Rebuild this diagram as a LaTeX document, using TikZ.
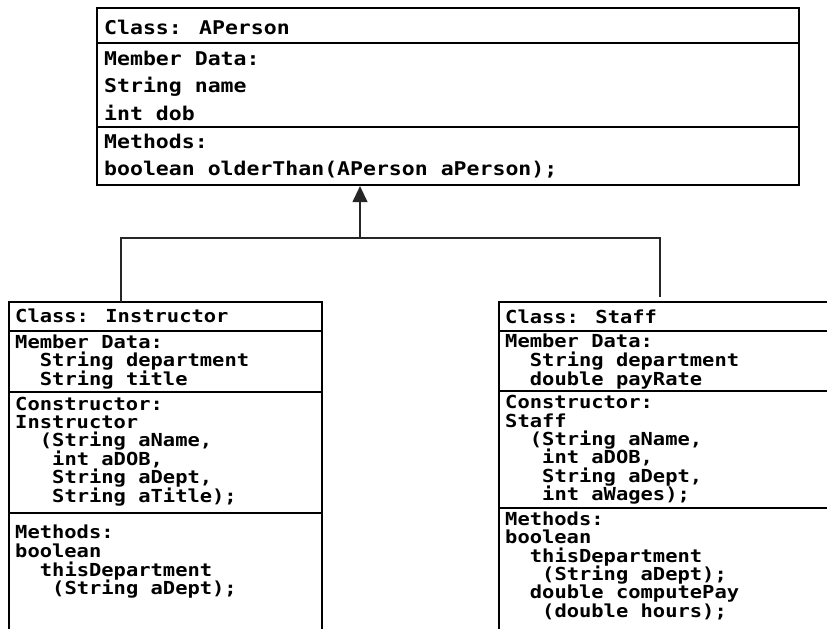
\documentclass[tikz,border=0pt]{standalone}
\usepackage{fontspec}
\newfontfamily\umlfontA[FakeStretch=1.136]{DejaVu Sans Mono}
\newfontfamily\umlfontB[FakeStretch=1.14]{DejaVu Sans Mono}
\usetikzlibrary{arrows.meta,calc}
\newcommand\umltop[4]{\node[txttop] (#1) at (#2,#3) {#4};}
\newcommand\umlline[4]{\node[txt] (#1) at (#2,#3) {#4};}
\begin{document}
\begin{tikzpicture}[x=1bp,y=-1bp,
  bx/.style={draw=black,line width=2.2bp},
  boxnode/.style={bx,inner sep=0pt,outer sep=0pt,anchor=north west},
  txttop/.style={font={\umlfontA\bfseries\fontsize{19}{19}\selectfont},inner sep=0pt,anchor=base west},
  txt/.style={font={\umlfontB\bfseries\fontsize{18}{18}\selectfont},inner sep=0pt,anchor=base west},
  conn/.style={draw=black!85,line width=1.2bp}]
\useasboundingbox (0,0) rectangle (827,629);

% ---- APerson ----
\node[boxnode,minimum width=702bp,minimum height=177bp] (ap) at (97,8) {};
\draw[bx] (97,43) -- (799,43);
\draw[bx] (97,127) -- (799,127);
\umltop{a1}{104}{35}{Class: APerson}
\umltop{a2}{104}{66}{Member Data:}
\umltop{a3}{104}{93}{String name}
\umltop{a4}{104}{121}{int dob}
\umltop{a5}{104}{149}{Methods:}
\umltop{a6}{104}{176}{boolean olderThan(APerson aPerson);}

% ---- Instructor ----
\node[boxnode,minimum width=313bp,minimum height=360bp] (inst) at (9,302) {};
\draw[bx] (9,331) -- (322,331);
\draw[bx] (9,392) -- (322,392);
\draw[bx] (9,513) -- (322,513);
\umlline{i1}{15}{322}{Class: Instructor}
\umlline{i2}{15}{348}{Member Data:}
\umlline{i3}{39.7}{366.5}{String department}
\umlline{i4}{39.7}{385}{String title}
\umlline{i5}{15}{410}{Constructor:}
\umlline{i6}{15}{428}{Instructor}
\umlline{i7}{39.7}{446}{(String aName,}
\umlline{i8}{52}{465}{int aDOB,}
\umlline{i9}{52}{483}{String aDept,}
\umlline{i10}{52}{502}{String aTitle);}
\umlline{i11}{15}{538}{Methods:}
\umlline{i12}{15}{557}{boolean}
\umlline{i13}{39.7}{576}{thisDepartment}
\umlline{i14}{52}{594}{(String aDept);}

% ---- Staff ----
\node[boxnode,minimum width=360bp,minimum height=360bp] (staff) at (499,302) {};
\draw[bx] (499,331) -- (859,331);
\draw[bx] (499,391) -- (859,391);
\draw[bx] (499,508) -- (859,508);
\umlline{s1}{505}{323}{Class: Staff}
\umlline{s2}{505}{347}{Member Data:}
\umlline{s3}{529.7}{366}{String department}
\umlline{s4}{529.7}{385}{double payRate}
\umlline{s5}{505}{408}{Constructor:}
\umlline{s6}{505}{427}{Staff}
\umlline{s7}{529.7}{445}{(String aName,}
\umlline{s8}{542}{463}{int aDOB,}
\umlline{s9}{542}{482}{String aDept,}
\umlline{s10}{542}{500}{int aWages);}
\umlline{s11}{505}{525}{Methods:}
\umlline{s12}{505}{543}{boolean}
\umlline{s13}{529.7}{562}{thisDepartment}
\umlline{s14}{542}{580}{(String aDept);}
\umlline{s15}{529.7}{598}{double computePay}
\begin{scope}
\clip (499,300) rectangle (827,619);
\umlline{s16}{542}{617}{(double hours);}
\end{scope}

% ---- inheritance connector ----
\coordinate (jl) at (121,238);
\coordinate (jm) at (360,238);
\coordinate (jr) at (660,238);
\coordinate (se) at (660,297);
\coordinate (tip) at ($(ap.south -| jm)+(0,1.1)$);
\draw[conn] (inst.north -| jl) -- (jl) -- (jr) -- (se);
\draw[conn,-{Triangle[length=16bp,width=15bp]}] (jm) -- (tip);
\end{tikzpicture}
\end{document}
